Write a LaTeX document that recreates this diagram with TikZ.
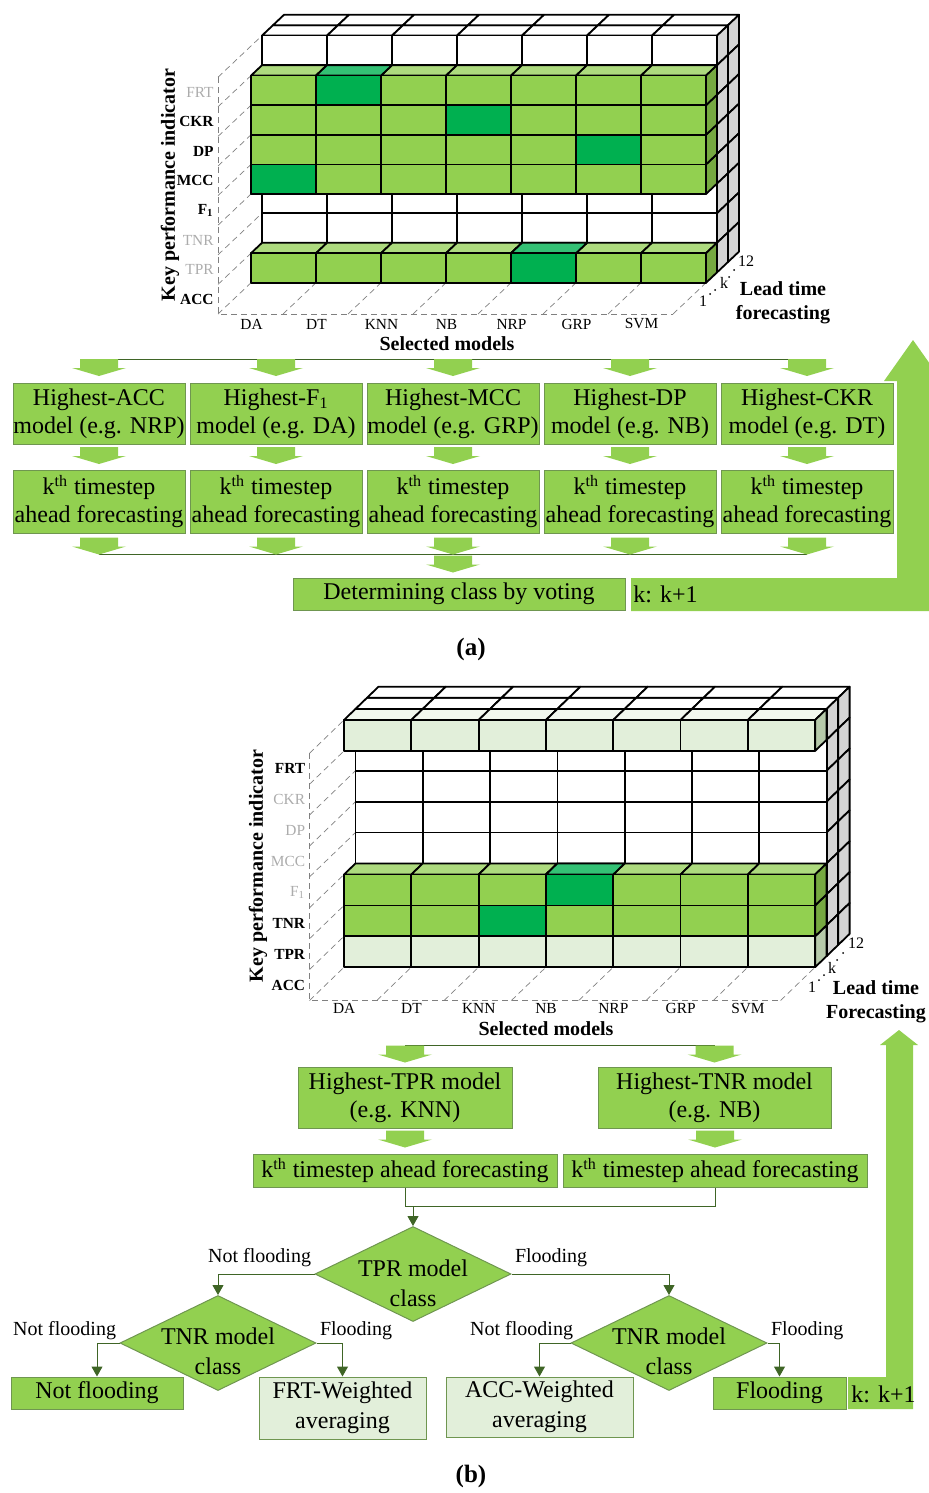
\documentclass[tikz,border=0pt]{standalone}
\usepackage{fontspec}
\setmainfont{Liberation Serif}
\usepackage{xcolor}
\usepackage{tikz}
\usetikzlibrary{arrows.meta,positioning,shapes.geometric,calc}

\definecolor{kpigreen}{HTML}{92D050}
\definecolor{kpitop}{HTML}{ADDA7E}
\definecolor{kpiside}{HTML}{76A941}
\definecolor{bestgreen}{HTML}{00B050}
\definecolor{besttop}{HTML}{34C175}
\definecolor{palegreen}{HTML}{E2EFDA}
\definecolor{paletop}{HTML}{F2F8EE}
\definecolor{paleside}{HTML}{B6CAAA}
\definecolor{sidegray}{HTML}{D4D4D4}
\definecolor{boxline}{HTML}{6F9650}
\definecolor{flowline}{HTML}{3F6526}

\tikzset{
  cell/.style={draw=black, line width=0.9pt, line join=round},
  frame/.style={draw=gray, line width=0.35pt, densely dashed},
  kpion/.style={font=\fontsize{7.7}{9}\selectfont\bfseries, anchor=east, inner sep=1pt},
  kpioff/.style={kpion, font=\fontsize{7.7}{9}\selectfont, text=gray!65},
  modlabel/.style={font=\fontsize{7.7}{9}\selectfont, inner sep=0pt},
  depth/.style={font=\fontsize{8}{9}\selectfont, inner sep=0pt},
  axislabel/.style={font=\fontsize{10}{12}\selectfont\bfseries, align=center, inner sep=0pt},
  caption/.style={font=\fontsize{12.5}{15}\selectfont\bfseries},
  box/.style={draw=boxline, line width=0.5pt, fill=kpigreen, align=center, inner sep=0pt, font=\fontsize{12}{14}\selectfont},
  palebox/.style={box, fill=palegreen, font=\fontsize{12}{15}\selectfont},
  fat/.style={fill=kpigreen},
  link/.style={draw=flowline, line width=0.5pt},
  conn/.style={link, -{Triangle[width=5.5pt,length=5pt]}},
  decision/.style={diamond, draw=boxline, line width=0.5pt, fill=kpigreen, minimum width=98pt, minimum height=47.5pt, inner sep=0pt},
  branch/.style={font=\fontsize{10}{12}\selectfont, inner sep=1.5pt},
}

% grid geometry: \gx,\gy front corner, \gw,\gh cell, \gdx,\gup one layer back
\newcommand{\kpiframe}{%
  \draw[frame] (\gx-3*\gdx, \gy+3*\gup) -- (\gx-3*\gdx, \gy+8*\gh+3*\gup) -- ++(7*\gw,0);
  \foreach \rr in {0,...,7}
    \draw[frame] (\gx-3*\gdx, \gy+\rr*\gh+3*\gup) -- ++(4*\gdx,-4*\gup);
  \foreach \cc in {0,...,7}
    \draw[frame] (\gx+\cc*\gw-3*\gdx, \gy+8*\gh+3*\gup) -- ++(3*\gdx,-3*\gup);
}
\newcommand{\backblock}{%
  \foreach \cc in {0,...,6}
    \foreach \lay in {1,2}
      \draw[cell, fill=white] (\gx+\cc*\gw+\lay*\gdx, \gy-\lay*\gup) -- ++(\gw,0) -- ++(\gdx,-\gup) -- ++(-\gw,0) -- cycle;
  \foreach \rr in {0,...,7}
    \foreach \lay in {1,2}
      \draw[cell, fill=sidegray] (\gx+7*\gw+\lay*\gdx, \gy+\rr*\gh-\lay*\gup) -- ++(\gdx,-\gup) -- ++(0,\gh) -- ++(-\gdx,\gup) -- cycle;
  \foreach \cc in {0,...,6}
    \foreach \rr in {0,...,7}
      \draw[cell, fill=white] (\gx+\cc*\gw+\gdx, \gy+\rr*\gh-\gup) rectangle ++(\gw,\gh);
}
\newcommand{\kpicube}[4]{% col, row, front, top
  \draw[cell, fill=#4] (\gx+#1*\gw, \gy+#2*\gh) -- ++(\gdx,-\gup) -- ++(\gw,0) -- ++(-\gdx,\gup) -- cycle;
  \draw[cell, fill=#3] (\gx+#1*\gw, \gy+#2*\gh) rectangle ++(\gw,\gh);
}
\newcommand{\kpirow}[5]{% row, best col (-1 none), front, top, side
  \foreach \cc in {0,...,6}{\kpicube{\cc}{#1}{#3}{#4}}
  \ifnum#2>-1 \kpicube{#2}{#1}{bestgreen}{besttop}\fi
  \draw[cell, fill=#5] (\gx+7*\gw, \gy+#1*\gh) -- ++(\gdx,-\gup) -- ++(0,\gh) -- ++(-\gdx,\gup) -- cycle;
}
\newcommand{\fatarrow}[1]{%
  \fill[fat] #1 ++(-19,-17) -- ++(38,0) -- ++(0,9) -- ++(8,0) -- #1 -- ++(-27,-8) -- ++(8,0) -- cycle;
}

\begin{document}
\begin{tikzpicture}[x=0.5pt, y=-0.5pt]
    \useasboundingbox (0,0) rectangle (929,1493);
    \clip (0,0) rectangle (929,1493);

    % ---------- (a) indicator grid ----------
    \def\gx{251}\def\gy{46}\def\gw{65}\def\gh{29.6}\def\gdx{11}\def\gup{10.4}
    \kpiframe
    \backblock
    \kpirow{7}{4}{kpigreen}{kpitop}{kpiside}
    \kpirow{4}{0}{kpigreen}{kpitop}{kpiside}
    \kpirow{3}{5}{kpigreen}{kpitop}{kpiside}
    \kpirow{2}{3}{kpigreen}{kpitop}{kpiside}
    \kpirow{1}{1}{kpigreen}{kpitop}{kpiside}
    \foreach \rr/\t/\s in {0/FRT/kpioff, 1/CKR/kpion, 2/DP/kpion, 3/MCC/kpion,
        4/{F\textsubscript{1}}/kpion, 5/TNR/kpioff, 6/TPR/kpioff, 7/ACC/kpion}
      \node[\s] (kpiA\rr) at (\gx-3*\gdx-2, \gy+\rr*\gh+\gh/2+3*\gup) {\t};
    \foreach \cc/\m in {0/DA, 1/DT, 2/KNN, 3/NB, 4/NRP, 5/GRP, 6/SVM}
      \node[modlabel] (modA\cc) at (\gx+\cc*\gw-3*\gdx+\gw/2+1, \gy+8*\gh+3*\gup+10) {\m};
    \node[axislabel, rotate=90] (kpiA) at (170,185) {Key performance indicator};
    \node[axislabel] (selA) at (447,344) {Selected models};
    \node[axislabel] (leadA) at (783,303) {Lead time\\forecasting};
    \node[depth] (oneA) at (703,301) {1};
    \node[depth] (kA) at (724,283) {k};
    \node[depth] (twelveA) at (746,261) {12};
    \foreach \p in {(710,294),(715,290),(729,277),(734,270)} \fill \p circle (0.5pt);

    % ---------- (a) voting scheme ----------
    \node[box, minimum width=86pt, minimum height=30.5pt] (hacc) at (99,413.5) {Highest-ACC\\model (e.g. NRP)};
    \node[box, minimum width=86pt, minimum height=30.5pt] (hf) at (276,413.5) {Highest-F\textsubscript{1}\\model (e.g. DA)};
    \node[box, minimum width=86pt, minimum height=30.5pt] (hmcc) at (453,413.5) {Highest-MCC\\model (e.g. GRP)};
    \node[box, minimum width=86pt, minimum height=30.5pt] (hdp) at (630,413.5) {Highest-DP\\model (e.g. NB)};
    \node[box, minimum width=86pt, minimum height=30.5pt] (hckr) at (807,413.5) {Highest-CKR\\model (e.g. DT)};
    \foreach \b/\h in {tacc/hacc, tf/hf, tmcc/hmcc, tdp/hdp, tckr/hckr}
      \node[box, minimum width=86pt, minimum height=31.5pt] (\b) at (\h |- 0,501.5) {k\textsuperscript{th} timestep\\ahead forecasting};
    \draw[link] ($(hacc.north)+(0,-23.5)$) -- ($(hckr.north)+(0,-23.5)$);
    \draw[link] ($(tacc.south)+(0,21)$) -- ($(tckr.south)+(0,21)$);
    \foreach \h/\b in {hacc/tacc, hf/tf, hmcc/tmcc, hdp/tdp, hckr/tckr}{
      \fatarrow{($(\h.north)+(0,-6.5)$)}
      \fatarrow{($(\b.north)+(0,-5.5)$)}
      \fatarrow{($(\b.south)+(0,21)$)}
    }
    \node[box, minimum width=166pt, minimum height=16pt] (vote) at (459,594) {Determining class by voting};
    \fatarrow{($(tmcc.south)+(0,39)$)}
    \fill[fat] (631,578) -- (897,578) -- (897,381) -- (884,381) -- (913,340) -- (942,381)
      -- (929,381) -- (929,611) -- (631,611) -- cycle;
    \node[anchor=west, inner sep=1pt, font=\fontsize{12}{14}\selectfont] (stepA) at (631,594) {k: k+1};
    \node[caption] (capA) at (471,649) {(a)};

    % ---------- (b) indicator grid ----------
    \def\gx{344}\def\gy{720}\def\gw{67.3}\def\gh{30.9}\def\gdx{11.5}\def\gup{11.1}
    \kpiframe
    \backblock
    \kpirow{7}{-1}{palegreen}{paletop}{paleside}
    \kpirow{6}{2}{kpigreen}{kpitop}{kpiside}
    \kpirow{5}{3}{kpigreen}{kpitop}{kpiside}
    \kpirow{0}{-1}{palegreen}{paletop}{paleside}
    \foreach \rr/\t/\s in {0/FRT/kpion, 1/CKR/kpioff, 2/DP/kpioff, 3/MCC/kpioff,
        4/{F\textsubscript{1}}/kpioff, 5/TNR/kpion, 6/TPR/kpion, 7/ACC/kpion}
      \node[\s] (kpiB\rr) at (\gx-3*\gdx-2, \gy+\rr*\gh+\gh/2+3*\gup) {\t};
    \foreach \cc/\m in {0/DA, 1/DT, 2/KNN, 3/NB, 4/NRP, 5/GRP, 6/SVM}
      \node[modlabel] (modB\cc) at (\gx+\cc*\gw-3*\gdx+\gw/2+1, \gy+8*\gh+3*\gup+8) {\m};
    \node[axislabel, rotate=90] (kpiB) at (258,866) {Key performance indicator};
    \node[axislabel] (selB) at (546,1029) {Selected models};
    \node[axislabel] (leadB) at (876,1002) {Lead time\\Forecasting};
    \node[depth] (oneB) at (812,987) {1};
    \node[depth] (kB) at (832,968) {k};
    \node[depth] (twelveB) at (856,943) {12};
    \foreach \p in {(819,980),(824,975),(837,960),(843,953)} \fill \p circle (0.5pt);

    % ---------- (b) decision scheme ----------
    \node[box, minimum width=107pt, minimum height=30.5pt] (htpr) at (405,1097.5) {Highest-TPR model\\(e.g. KNN)};
    \node[box, minimum width=116.5pt, minimum height=30.5pt] (htnr) at (714.5,1097.5) {Highest-TNR model\\(e.g. NB)};
    \node[box, minimum width=152pt, minimum height=16.5pt] (kthL) at (405,1170.5) {k\textsuperscript{th} timestep ahead forecasting};
    \node[box, minimum width=152pt, minimum height=16.5pt] (kthR) at (715,1170.5) {k\textsuperscript{th} timestep ahead forecasting};
    \draw[link] ($(htpr.north)+(0,-21)$) -- ($(htnr.north)+(0,-21)$);
    \foreach \h/\b in {htpr/kthL, htnr/kthR}{
      \fatarrow{($(\h.north)+(0,-4)$)}
      \fatarrow{($(\b.north)+(0,-6)$)}
    }
    \coordinate (merge) at (413,1206);
    \draw[link] (kthL.south) |- (merge) -| (kthR.south);

    \node[decision, label={[align=center, font=\fontsize{12}{15}\selectfont, yshift=-4.5pt]center:TPR model\\class}] (tpr) at (413,1274) {};
    \node[decision, label={[align=center, font=\fontsize{12}{15}\selectfont, yshift=-4pt]center:TNR model\\class}] (tnrL) at (218,1343) {};
    \node[decision, label={[align=center, font=\fontsize{12}{15}\selectfont, yshift=-4pt]center:TNR model\\class}] (tnrR) at (669,1343) {};
    \node[box, minimum width=86pt, minimum height=16pt] (notfl) at (97,1393) {Not flooding};
    \node[palebox, minimum width=83.5pt, minimum height=31pt] (frtw) at (342.5,1408) {FRT-Weighted\\averaging};
    \node[palebox, minimum width=93.5pt, minimum height=30pt] (accw) at (539.5,1407) {ACC-Weighted\\averaging};
    \node[box, minimum width=66.5pt, minimum height=16pt] (fl) at (779.5,1393) {Flooding};

    \draw[conn] (merge) -- (tpr.north);
    \draw[conn] (tpr.west) -| (tnrL.north) node[branch, pos=0, anchor=south east, yshift=2pt] {Not flooding};
    \draw[conn] (tpr.east) -| (tnrR.north) node[branch, pos=0, anchor=south west, yshift=2pt] {Flooding};
    \draw[conn] (tnrL.west) -| (notfl.north) node[branch, pos=0, anchor=south east] {Not flooding};
    \draw[conn] (tnrL.east) -| (frtw.north) node[branch, pos=0, anchor=south west] {Flooding};
    \draw[conn] (tnrR.west) -| (accw.north) node[branch, pos=0, anchor=south east, xshift=3pt] {Not flooding};
    \draw[conn] (tnrR.east) -| (fl.north) node[branch, pos=0, anchor=south west] {Flooding};

    \fill[fat] (848,1377) -- (886,1377) -- (886,1045) -- (880,1045) -- (899,1030) -- (918,1045)
      -- (913,1045) -- (913,1409) -- (848,1409) -- cycle;
    \node[anchor=west, inner sep=1pt, font=\fontsize{12}{14}\selectfont] (stepB) at (849,1394) {k: k+1};
    \node[caption] (capB) at (471,1476) {(b)};
\end{tikzpicture}
\end{document}
